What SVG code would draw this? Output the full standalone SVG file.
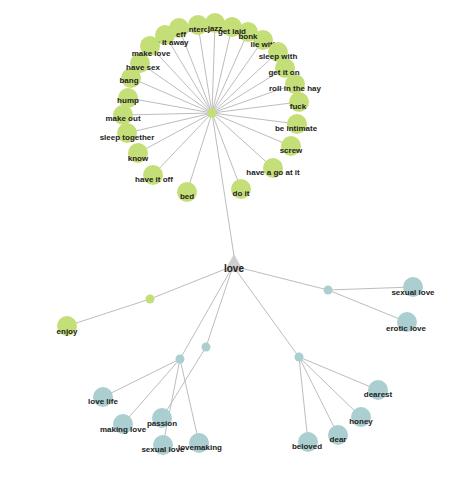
<svg xmlns="http://www.w3.org/2000/svg" width="467" height="483" viewBox="0 0 467 483">
<style>
.e{stroke:#bdbdbd;stroke-width:1;fill:none}
.g{fill:#c5df78}
.b{fill:#abcfd1}
.t{font-family:"Liberation Sans",Arial,sans-serif;font-weight:bold;font-size:8px;fill:#222;text-anchor:middle}
.lv{font-size:10px}
</style>
<rect width="467" height="483" fill="#fff"/>
<g id="connectors">
<path class="e" d="M212 113L198 25M212 113L215 23M212 113L232 27M212 113L248 32M212 113L263 40M212 113L278 52M212 113L285 68M212 113L295 84M212 113L299 102M212 113L297 124M212 113L291 146M212 113L273 168M212 113L241 189M212 113L187 192M212 113L153 175M212 113L138 153M212 113L127 133M212 113L123 115M212 113L128 98M212 113L131 78M212 113L140 63M212 113L150 46M212 113L165 35M212 113L179 28"/>
<path class="e" d="M212 113L234 256M233 266L150 299L67 326M233 266L328 290L413 287M328 290L407 322M233 266L180 359M233 266L206 347M233 266L299 357M180 359L103 397M180 359L123 424M180 359L163 445M180 359L199 443M206 347L162 418M299 357L378 390M299 357L361 417M299 357L338 435M299 357L308 442"/>
</g>
<g id="have-intercourse"><circle class="g" cx="198" cy="25" r="10"/><text class="t" x="198" y="32">have intercourse</text></g>
<g id="jazz"><circle class="g" cx="215" cy="23" r="10"/><text class="t" x="215" y="31">jazz</text></g>
<g id="bed"><circle class="g" cx="187" cy="192" r="10"/><text class="t" x="187" y="199">bed</text></g>
<g id="have-it-off"><circle class="g" cx="153" cy="175" r="10"/><text class="t" x="154" y="182">have it off</text></g>
<g id="know"><circle class="g" cx="138" cy="153" r="10"/><text class="t" x="138" y="161">know</text></g>
<g id="sleep-together"><circle class="g" cx="127" cy="133" r="10"/><text class="t" x="127" y="140">sleep together</text></g>
<g id="make-out"><circle class="g" cx="123" cy="115" r="10"/><text class="t" x="123" y="121">make out</text></g>
<g id="hump"><circle class="g" cx="128" cy="98" r="10"/><text class="t" x="128" y="103">hump</text></g>
<g id="bang"><circle class="g" cx="131" cy="78" r="10"/><text class="t" x="129" y="83">bang</text></g>
<g id="have-sex"><circle class="g" cx="140" cy="63" r="10"/><text class="t" x="143" y="70">have sex</text></g>
<g id="have-it-away"><circle class="g" cx="165" cy="35" r="10"/><text class="t" x="165" y="45">have it away</text></g>
<g id="make-love"><circle class="g" cx="150" cy="46" r="10"/><text class="t" x="151" y="56">make love</text></g>
<g id="eff"><circle class="g" cx="179" cy="28" r="10"/><text class="t" x="181" y="37">eff</text></g>
<g id="do-it"><circle class="g" cx="241" cy="189" r="10"/><text class="t" x="241" y="196">do it</text></g>
<g id="have-a-go-at-it"><circle class="g" cx="273" cy="168" r="10"/><text class="t" x="273" y="175">have a go at it</text></g>
<g id="screw"><circle class="g" cx="291" cy="146" r="10"/><text class="t" x="291" y="153">screw</text></g>
<g id="be-intimate"><circle class="g" cx="297" cy="124" r="10"/><text class="t" x="296" y="131">be intimate</text></g>
<g id="fuck"><circle class="g" cx="299" cy="102" r="10"/><text class="t" x="298" y="109">fuck</text></g>
<g id="roll-in-the-hay"><circle class="g" cx="295" cy="84" r="10"/><text class="t" x="295" y="91">roll in the hay</text></g>
<g id="get-it-on"><circle class="g" cx="285" cy="68" r="10"/><text class="t" x="284" y="75">get it on</text></g>
<g id="lie-with"><circle class="g" cx="263" cy="40" r="10"/><text class="t" x="264" y="47">lie with</text></g>
<g id="sleep-with"><circle class="g" cx="278" cy="52" r="10"/><text class="t" x="278" y="59">sleep with</text></g>
<g id="bonk"><circle class="g" cx="248" cy="32" r="10"/><text class="t" x="248" y="39">bonk</text></g>
<g id="get-laid"><circle class="g" cx="232" cy="27" r="10"/><text class="t" x="232" y="34">get laid</text></g>
<g id="hub"><circle class="g" cx="212" cy="113" r="4.7"/></g>
<g id="love"><polygon points="234,254 244,272 224,272" fill="#cfcfcf"/><text class="t lv" x="234" y="272">love</text></g>
<g id="enjoy-mid"><circle class="g" cx="150" cy="299" r="4.5"/></g>
<g id="enjoy"><circle class="g" cx="67" cy="326" r="10"/><text class="t" x="67" y="334">enjoy</text></g>
<g id="erotic-mid"><circle class="b" cx="328" cy="290" r="4.5"/></g>
<g id="sexual-love-1"><circle class="b" cx="413" cy="287" r="10"/><text class="t" x="413" y="295">sexual love</text></g>
<g id="erotic-love"><circle class="b" cx="407" cy="322" r="10"/><text class="t" x="406" y="331">erotic love</text></g>
<g id="lovemaking-mid"><circle class="b" cx="180" cy="359" r="4.5"/></g>
<g id="passion-mid"><circle class="b" cx="206" cy="347" r="4.5"/></g>
<g id="dear-mid"><circle class="b" cx="299" cy="357" r="4.5"/></g>
<g id="love-life"><circle class="b" cx="103" cy="397" r="10"/><text class="t" x="103" y="404">love life</text></g>
<g id="making-love"><circle class="b" cx="123" cy="424" r="10"/><text class="t" x="123" y="432">making love</text></g>
<g id="passion"><circle class="b" cx="162" cy="418" r="10"/><text class="t" x="162" y="426">passion</text></g>
<g id="sexual-love-2"><circle class="b" cx="163" cy="445" r="10"/><text class="t" x="163" y="452">sexual love</text></g>
<g id="lovemaking"><circle class="b" cx="199" cy="443" r="10"/><text class="t" x="200" y="450">lovemaking</text></g>
<g id="dearest"><circle class="b" cx="378" cy="390" r="10"/><text class="t" x="378" y="397">dearest</text></g>
<g id="honey"><circle class="b" cx="361" cy="417" r="10"/><text class="t" x="361" y="424">honey</text></g>
<g id="dear"><circle class="b" cx="338" cy="435" r="10"/><text class="t" x="338" y="442">dear</text></g>
<g id="beloved"><circle class="b" cx="308" cy="442" r="10"/><text class="t" x="307" y="449">beloved</text></g>
</svg>
